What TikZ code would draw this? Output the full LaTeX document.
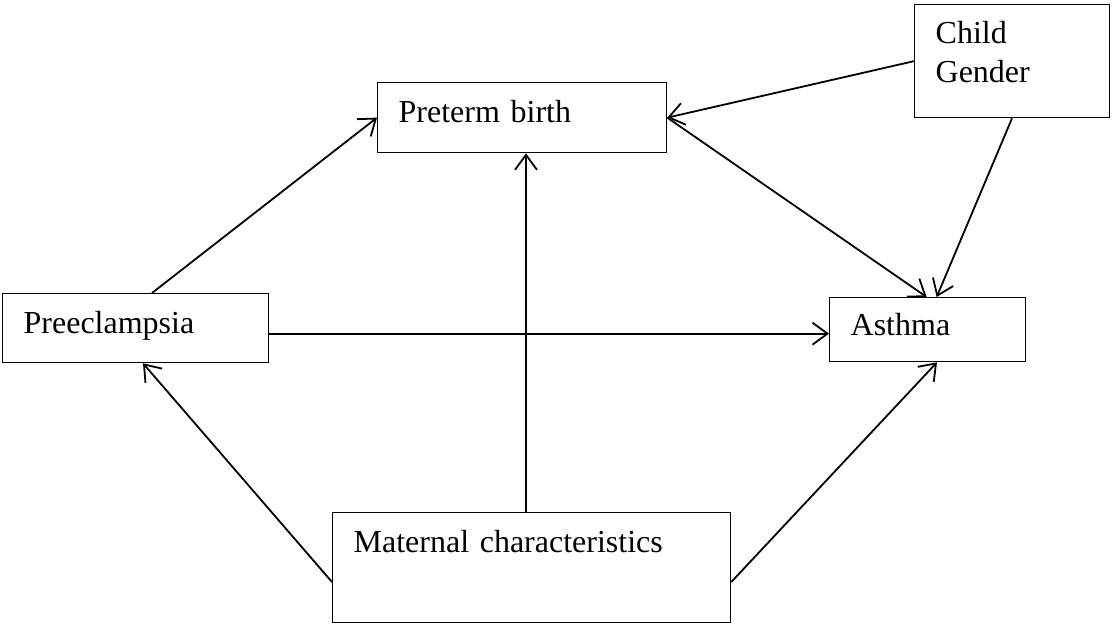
\documentclass[tikz,border=0pt]{standalone}
\usepackage{fontspec}
\setmainfont{Liberation Serif}
\usepackage{xcolor}
\usepackage{tikz}
\usetikzlibrary{arrows.meta,calc,positioning}
\definecolor{Ink}{HTML}{000000}
\newcommand{\boxfont}{\fontsize{32}{39}\selectfont}

\begin{document}
\begin{tikzpicture}[x=1pt,y=-1pt,
    box/.style={draw=Ink,line width=1.3pt,anchor=north west,inner xsep=21pt,inner ysep=0pt,
      align=left,font=\boxfont,text=Ink},
    arr/.style={draw=Ink,line width=1.8pt,-{Straight Barb[length=15pt,width=22pt,line width=1.8pt]}}]
  \useasboundingbox (0,0) rectangle (1112,630);
  \node[box,text width=247pt,text height=40pt,text depth=30pt] (preterm) at (377,82) {Preterm birth};
  \node[box,text width=153pt,text height=39pt,text depth=74pt] (gender) at (914,4) {Child\\Gender};
  \node[box,text width=224pt,text height=40pt,text depth=29pt] (preecl) at (2,293) {Preeclampsia};
  \node[box,text width=154pt,text height=38pt,text depth=26pt] (asthma) at (829,297) {Asthma};
  \node[box,text width=356pt,text height=40pt,text depth=70pt] (maternal) at (332,512) {Maternal characteristics};
  % arrows
  \draw[arr] ([xshift=150pt]preecl.north west) -- (preterm.west);
  \draw[arr] ([xshift=194pt]maternal.north west) -- ([xshift=194pt]maternal.north west |- preterm.south);
  \draw[arr] (gender.west) -- (preterm.east);
  \draw[arr] (preterm.east) -- ([xshift=-1pt]asthma.north);
  \draw[arr] ([xshift=98pt]gender.south west) -- ([xshift=9pt]asthma.north);
  \draw[arr] ([yshift=-5.5pt]preecl.east) -- ([yshift=-5.5pt]preecl.east -| asthma.west);
  \draw[arr] ([yshift=-70pt]maternal.north west) -- ([xshift=141pt]preecl.south west);
  \draw[arr] ([yshift=-70pt]maternal.north east) -- ([xshift=108pt]asthma.south west);
\end{tikzpicture}
\end{document}
